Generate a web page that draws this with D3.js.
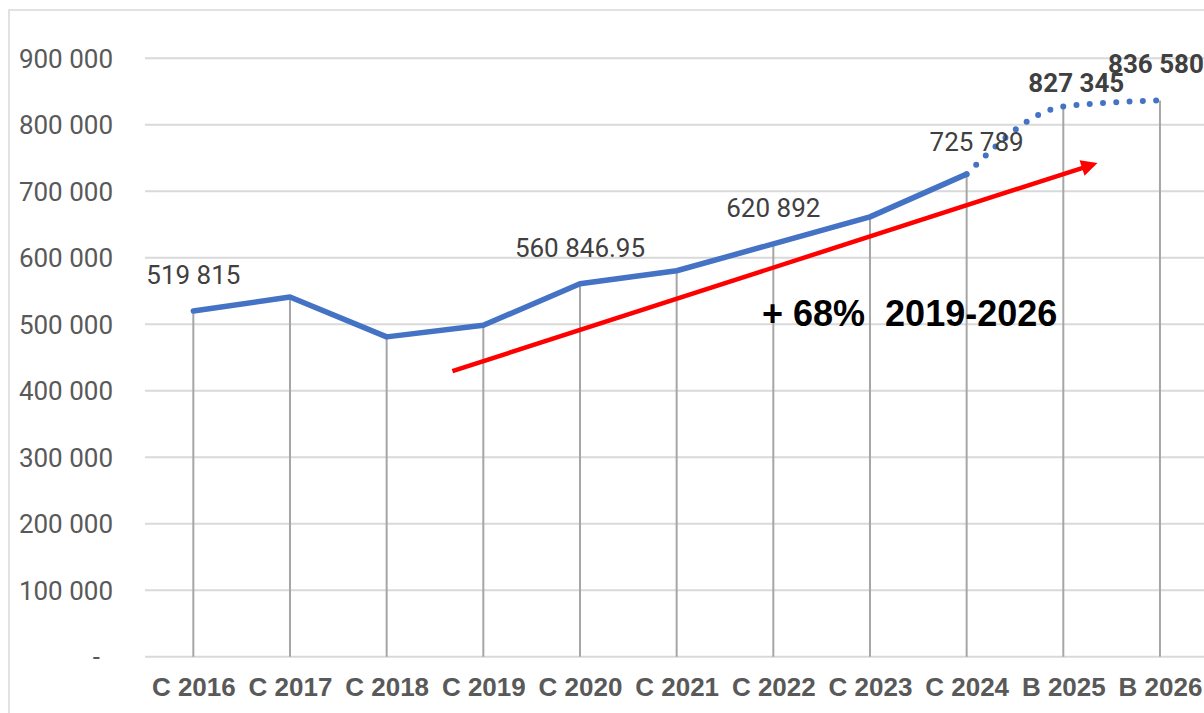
<!DOCTYPE html>
<html>
<head>
  <meta charset="utf-8" />
  <style>
    body { margin: 0; background: #fff; }
    svg { display: block; }
    .ylab text { font-family: Roboto, "Liberation Sans", sans-serif; font-size: 26px; fill: #595959; }
    .xlab text { font-family: "Liberation Sans", Arial, sans-serif; font-size: 26px; font-weight: bold; fill: #595959; }
    .dlabel { font-family: Roboto, "Liberation Sans", sans-serif; font-size: 26px; fill: #404040; }
    .note { font-family: "Liberation Sans", Arial, sans-serif; font-size: 36px; font-weight: bold; fill: #000; }
  </style>
</head>
<body>
  <svg width="1204" height="713"></svg>

  <script src="https://cdn.jsdelivr.net/npm/d3@7"></script>
  <script>
    // data
    var categories = ["C 2016", "C 2017", "C 2018", "C 2019", "C 2020", "C 2021",
                      "C 2022", "C 2023", "C 2024", "B 2025", "B 2026"];
    var values = [519815, 541000, 481000, 498500, 560846.95, 580500,
                  620892, 661500, 725789, 827345, 836580];
    var labelText = ["519 815", null, null, null, "560 846.95", null,
                     "620 892", null, "725 789", "827 345", "836 580"];
    var yTicks = [0, 100000, 200000, 300000, 400000, 500000, 600000, 700000, 800000, 900000];
    var actualCount = 9; // C years, the B years are budget (dotted)

    // trend arrow, in category index / value terms
    var arrowFrom = { i: 2.68, v: 429500 };
    var arrowTo = { i: 9.35, v: 742500 };
    var noteText = "+ 68%  2019-2026";

    var svg = d3.select("svg"),
      width = +svg.attr("width"),
      height = +svg.attr("height");

    var x = d3.scalePoint().domain(categories).range([145, 1208.3]).padding(0.5);
    var y = d3.scaleLinear().domain([0, 900000]).range([656.7, 58.3]);
    var step = x.step();
    function xi(i) { return x(categories[0]) + i * step; }

    // chart border
    svg.append("rect")
      .attr("x", 9).attr("y", 10)
      .attr("width", width).attr("height", height)
      .attr("fill", "none").attr("stroke", "#d9d9d9").attr("stroke-width", 1.5);

    // gridlines
    svg.append("g")
      .selectAll("line")
      .data(yTicks)
      .enter()
      .append("line")
      .attr("x1", 145).attr("x2", width)
      .attr("y1", function (d) { return y(d); })
      .attr("y2", function (d) { return y(d); })
      .attr("stroke", "#d9d9d9").attr("stroke-width", 2);

    // y labels
    var fmt = function (d) {
      if (d === 0) return "-";
      return d3.format(",")(d).replace(/,/g, " ");
    };
    var yAxis = svg.append("g")
      .attr("class", "ylab")
      .attr("transform", "translate(113,0)")
      .call(d3.axisLeft(y).tickValues(yTicks).tickFormat(fmt).tickSize(0).tickPadding(0));
    yAxis.select(".domain").remove();
    yAxis.selectAll("text")
      .attr("dy", "0.35em")
      .attr("dx", function (d) { return d === 0 ? -13 : 0; });

    // x labels
    var xAxis = svg.append("g")
      .attr("class", "xlab")
      .attr("transform", "translate(0,656.7)")
      .call(d3.axisBottom(x).tickSize(0).tickPadding(0));
    xAxis.select(".domain").remove();
    xAxis.selectAll("text").attr("dy", 0).attr("y", 39.5);

    // drop lines
    svg.append("g")
      .selectAll("line")
      .data(values)
      .enter()
      .append("line")
      .attr("x1", function (d, i) { return x(categories[i]); })
      .attr("x2", function (d, i) { return x(categories[i]); })
      .attr("y1", function (d) { return y(d); })
      .attr("y2", y(0))
      .attr("stroke", "#a6a6a6").attr("stroke-width", 2);

    var pts = values.map(function (d, i) { return [x(categories[i]), y(d)]; });

    // actuals, solid
    svg.append("path")
      .attr("d", d3.line()(pts.slice(0, actualCount)))
      .attr("fill", "none")
      .attr("stroke", "#4472c4")
      .attr("stroke-width", 5.5)
      .attr("stroke-linejoin", "round")
      .attr("stroke-linecap", "round");

    // budget, dotted
    svg.append("path")
      .attr("d", d3.line().curve(d3.curveMonotoneX)(pts.slice(actualCount - 1)))
      .attr("fill", "none")
      .attr("stroke", "#4472c4")
      .attr("stroke-width", 6)
      .attr("stroke-linecap", "round")
      .attr("stroke-dasharray", "0 13.3");

    // red trend arrow
    svg.append("defs").append("marker")
      .attr("id", "head")
      .attr("viewBox", "0 0 10 10")
      .attr("refX", 2).attr("refY", 5)
      .attr("markerWidth", 4.2).attr("markerHeight", 3.6)
      .attr("markerUnits", "strokeWidth")
      .attr("orient", "auto")
      .append("path")
      .attr("d", "M0,0L10,5L0,10Z")
      .attr("fill", "#ff0000");

    svg.append("line")
      .attr("x1", xi(arrowFrom.i)).attr("y1", y(arrowFrom.v))
      .attr("x2", xi(arrowTo.i) - 12).attr("y2", y(arrowTo.v) + 4)
      .attr("stroke", "#ff0000")
      .attr("stroke-width", 4.5)
      .attr("marker-end", "url(#head)");

    // data labels
    var nudge = { 8: [10, 4], 9: [13, 12], 10: [-4, 0] };
    var labelled = values
      .map(function (d, i) { return { i: i, v: d, t: labelText[i] }; })
      .filter(function (d) { return d.t !== null; });
    svg.append("g")
      .selectAll("text")
      .data(labelled)
      .enter()
      .append("text")
      .attr("class", "dlabel")
      .attr("text-anchor", "middle")
      .attr("font-weight", function (d) { return d.i >= actualCount ? "bold" : "normal"; })
      .attr("x", function (d) { return x(categories[d.i]) + (nudge[d.i] ? nudge[d.i][0] : 0); })
      .attr("y", function (d) { return y(d.v) - 27 + (nudge[d.i] ? nudge[d.i][1] : 0); })
      .text(function (d) { return d.t; });

    // annotation
    svg.append("text")
      .attr("class", "note")
      .attr("xml:space", "preserve")
      .attr("x", 762)
      .attr("y", 326)
      .text(noteText);
  </script>
</body>
</html>
